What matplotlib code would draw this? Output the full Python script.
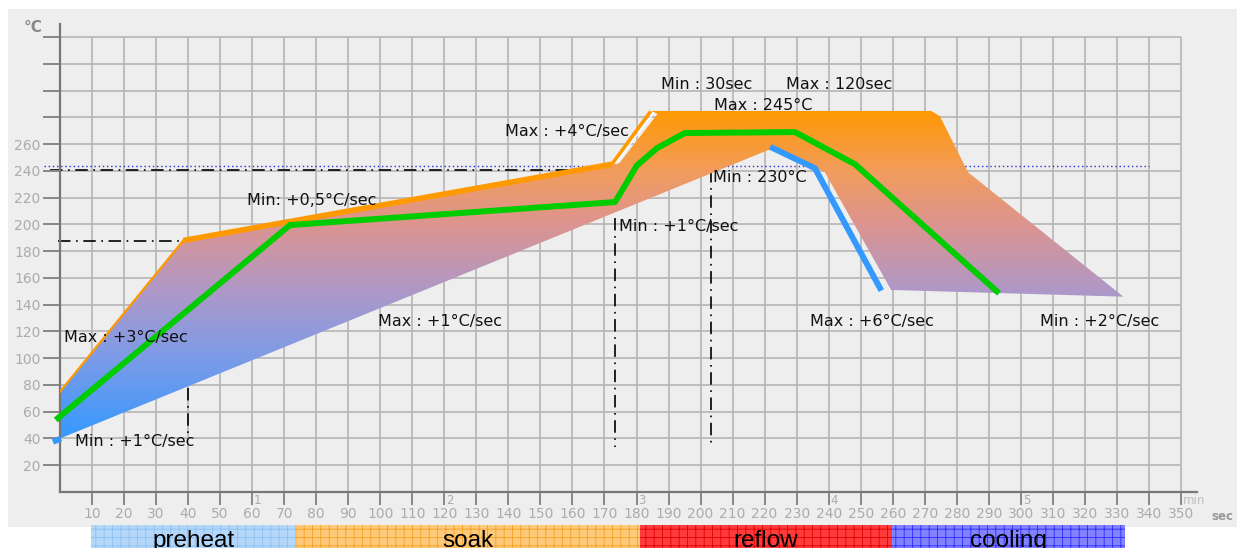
import numpy as np
import matplotlib.pyplot as plt
from matplotlib.colors import LinearSegmentedColormap
from matplotlib.patches import Polygon, Rectangle

plt.rcParams['font.family'] = ['DejaVu Sans']
plt.rcParams['lines.scale_dashes'] = False
plt.rcParams['hatch.linewidth'] = 0.6

# process window (gradient area), sec / degC
window_x = [0, 38.5, 172.3, 174.6, 186.6, 184.4, 272.0, 274.7, 283.5, 332.0, 259.5, 238.8, 222.6, 0]
window_y = [75, 188, 245, 245.6, 282.6, 284.8, 284.8, 281, 239, 146, 151, 239, 257, 40]

# max ramp edge (orange)
max_ramp_x = [0, 38.5]
max_ramp_y = [75, 188]
max_soak_x = [38.5, 172.3]
max_soak_y = [188, 245]
max_peak_x = [172.3, 184.4]
max_peak_y = [245, 284.5]

# typical profile (green)
profile_x = [-0.6, 71.8, 173.3, 180.1, 186.4, 195.1, 229.5, 248.2, 292.5]
profile_y = [55.3, 199.5, 216.7, 244, 257, 268.3, 269, 245, 150]

# min cooling edge (blue)
cool_x = [222.6, 235.7, 256]
cool_y = [257, 242, 152.5]
start_x = [-2.2, 0.3]
start_y = [37.5, 40]

# reference lines
liquidus = 243.9
dashdot_h = [(240.6, -3, 173.3), (187.6, -0.5, 40)]
dashdot_v = [(40, 78, 42.6), (173.3, 205, 33.6), (203.2, 240.6, 33.6)]

# phases
phase_names = ['preheat', 'soak', 'reflow', 'cooling']
phase_start = [9.7, 73.7, 181.0, 259.7]
phase_end = [73.7, 181.0, 259.7, 332.5]
phase_face = ['#B5D8FA', '#FFC97A', '#FF3B3B', '#8282FF']
phase_hatch = ['#8CC0F0', '#F5A020', '#E00000', '#2A2AFF']

x_ticks = list(range(10, 351, 10))
y_ticks = list(range(20, 341, 20))
minute_ticks = [60, 120, 180, 240, 300]
minute_labels = ['1', '2', '3', '4', '5']

notes = [
    (1.25, 115.1, 'Max : +3°C/sec'),
    (4.7, 37.4, 'Min : +1°C/sec'),
    (58.4, 218.2, 'Min: +0,5°C/sec'),
    (99.3, 127.1, 'Max : +1°C/sec'),
    (138.9, 269.8, 'Max : +4°C/sec'),
    (187.6, 304.9, 'Min : 30sec'),
    (226.7, 304.9, 'Max : 120sec'),
    (204.2, 288.5, 'Max : 245°C'),
    (203.9, 235.4, 'Min : 230°C'),
    (174.5, 198.1, 'Min : +1°C/sec'),
    (234.2, 127.1, 'Max : +6°C/sec'),
    (306.0, 127.1, 'Min : +2°C/sec'),
]

fig = plt.figure(figsize=(12.37, 5.48), dpi=100)
fig.patch.set_facecolor('white')
fig.patches.append(Rectangle((8 / 1237, 21 / 548), 1229 / 1237, 518 / 548,
                             transform=fig.transFigure, facecolor='#EEEEEE',
                             edgecolor='none', zorder=-10))

ax = fig.add_axes([60 / 1237, 56 / 548, 1137 / 1237, 468.3 / 548])
ax.set_facecolor('none')

# grid
ax.vlines(x_ticks, 0, 340, color='#B5B5B5', lw=1.2, zorder=0.5)
ax.hlines(y_ticks, 0, 350, color='#B5B5B5', lw=1.2, zorder=0.5)

# reference lines
ax.hlines(liquidus, -5, 340, color='#3030D0', lw=1.0, linestyles=[(0, (1, 2))],
          zorder=1, clip_on=False)
dd = (0, (9, 4, 1.2, 4))
for yv, x0, x1 in dashdot_h:
    ax.plot([x0, x1], [yv, yv], color='black', lw=1.2, ls=dd, zorder=1, clip_on=False)
for xv, y0, y1 in dashdot_v:
    ax.plot([xv, xv], [y0, y1], color='black', lw=1.2, ls=dd, zorder=1)

# gradient window
cmap = LinearSegmentedColormap.from_list('win', [
    (0.0, '#3399FF'), (0.25, '#7D9BE8'), (0.45, '#AE98C8'),
    (0.653, '#DC9490'), (0.815, '#F29C5C'), (1.0, '#FF9900')])
grad = np.linspace(0, 1, 256).reshape(-1, 1)
im = ax.imshow(grad, extent=[-1, 335, 38, 286], origin='lower', cmap=cmap,
               aspect='auto', zorder=2, interpolation='bilinear')
poly = Polygon(np.column_stack([window_x, window_y]), closed=True,
               facecolor='none', edgecolor='none')
ax.add_patch(poly)
im.set_clip_path(poly)

ax.plot(max_ramp_x, max_ramp_y, color='#FF9900', lw=1.6, zorder=3)
ax.plot(max_soak_x, max_soak_y, color='#FF9900', lw=4, zorder=3, solid_capstyle='butt')
ax.plot(max_peak_x, max_peak_y, color='#FF9900', lw=2.5, zorder=3, solid_capstyle='butt')
ax.plot([173.6, 185.4], [245.6, 283.4], color='white', lw=0.9, zorder=3)
ax.plot(cool_x, cool_y, color='#3399FF', lw=4.3, zorder=3)
ax.plot(start_x, start_y, color='#3399FF', lw=4.3, zorder=3, clip_on=False,
        solid_capstyle='butt')
ax.plot(profile_x, profile_y, color='#00CC00', lw=4.3, zorder=4, clip_on=False)

for x, y, s in notes:
    ax.text(x, y, s, fontsize=11.5, color='#111111', ha='left', va='center', zorder=6)

# phase bars
ax.bar(phase_start, 22, width=np.subtract(phase_end, phase_start), bottom=-46.7,
       align='edge', color=phase_face, edgecolor=phase_hatch, hatch='++', lw=0,
       clip_on=False, zorder=5)
for s, e, name in zip(phase_start, phase_end, phase_names):
    ax.text((s + e) / 2, -41.0, name, fontsize=17.5, family='Liberation Sans',
            ha='center', va='baseline', color='black', clip_on=False, zorder=6)

# axes
ax.set_xlim(0, 355)
ax.set_ylim(0, 350)
for side in ['top', 'right']:
    ax.spines[side].set_visible(False)
for side in ['left', 'bottom']:
    ax.spines[side].set_color('#777777')
    ax.spines[side].set_linewidth(1.6)
ax.set_xticks(x_ticks)
ax.set_xticklabels([str(v) for v in x_ticks])
ax.set_yticks(y_ticks)
ax.set_yticklabels([str(v) if v <= 260 else '' for v in y_ticks])
ax.tick_params(axis='x', direction='out', length=9.5, width=1.4, color='#888888',
               labelcolor='#ABABAB', labelsize=10, pad=1.5)
ax.tick_params(axis='y', direction='out', length=12, width=1.4, color='#888888',
               labelcolor='#ABABAB', labelsize=10, pad=2)

for m, lab in zip(minute_ticks, minute_labels):
    ax.text(m + 0.6, -6.5, lab, fontsize=8.5, color='#ABABAB', ha='left',
            va='center', clip_on=False)
ax.text(350.6, -6.5, 'min', fontsize=8.5, color='#C0C0C0', ha='left', va='center',
        clip_on=False)
ax.text(359.5, -18, 'sec', fontsize=8.5, color='#999999', fontweight='bold',
        ha='left', va='center', clip_on=False)
ax.text(-11.5, 347.5, '°C', fontsize=11, color='#888888', fontweight='bold',
        ha='left', va='center', clip_on=False)

fig.savefig('out.png', dpi=100)
